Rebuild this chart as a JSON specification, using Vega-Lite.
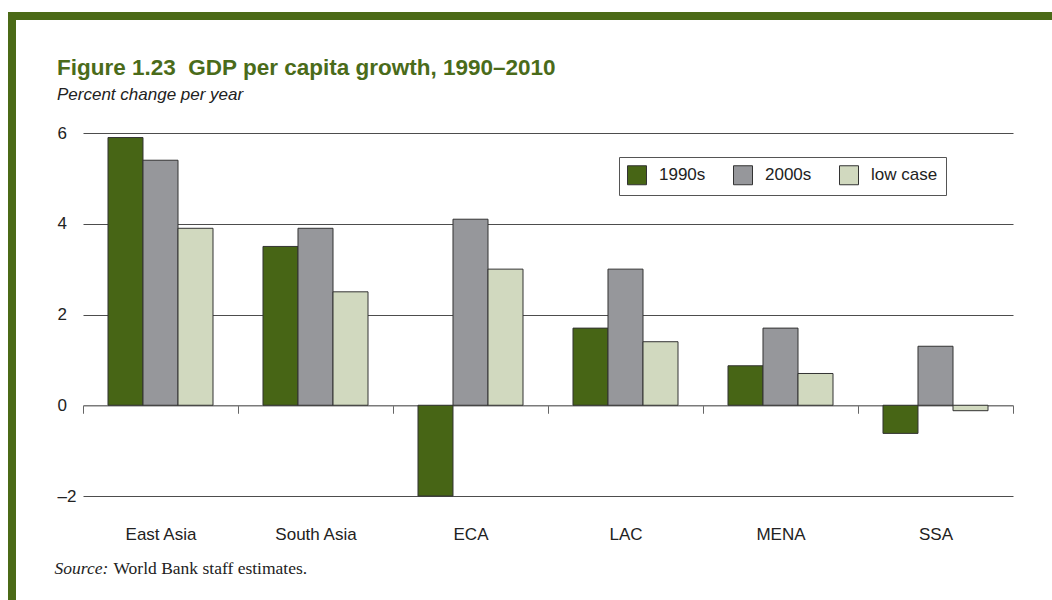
{
  "$schema": "https://vega.github.io/schema/vega-lite/v6.json",
  "background": "white",
  "padding": {"left": 8, "top": 12, "right": 0, "bottom": 0},
  "config": {"view": {"stroke": null}, "font": "Liberation Sans"},
  "bounds": "flush",
  "spacing": 0,
  "hconcat": [
    {
      "width": 8,
      "height": 588,
      "view": {"fill": "#4b6a17", "stroke": null},
      "data": {"values": []},
      "mark": "point",
      "encoding": {}
    },
    {
      "bounds": "flush",
      "spacing": 113,
      "vconcat": [
        {
          "width": 1036,
          "height": 8,
          "view": {"fill": "#4b6a17", "stroke": null},
          "data": {"values": []},
          "mark": "point",
          "encoding": {}
        },
        {
          "bounds": "flush",
          "spacing": 66,
          "hconcat": [
            {
              "width": 1,
              "height": 1,
              "view": {"stroke": null},
              "data": {"values": []},
              "mark": "point",
              "encoding": {}
            },
            {
              "width": 930,
              "height": 363,
              "title": {
                "text": "Figure 1.23\u00a0\u00a0GDP per capita growth, 1990–2010",
                "subtitle": "Percent change per year",
                "anchor": "start",
                "frame": "group",
                "dx": -26,
                "offset": 21,
                "font": "Liberation Sans",
                "fontSize": 22.5,
                "fontWeight": "bold",
                "color": "#4a6b1a",
                "subtitleFont": "Liberation Sans",
                "subtitleFontSize": 17,
                "subtitleFontStyle": "italic",
                "subtitleColor": "#222222",
                "subtitlePadding": 8
              },
              "data": {
                "values": [
                  {"region": "East Asia", "series": "1990s", "value": 5.9},
                  {"region": "East Asia", "series": "2000s", "value": 5.4},
                  {"region": "East Asia", "series": "low case", "value": 3.9},
                  {"region": "South Asia", "series": "1990s", "value": 3.5},
                  {"region": "South Asia", "series": "2000s", "value": 3.9},
                  {"region": "South Asia", "series": "low case", "value": 2.5},
                  {"region": "ECA", "series": "1990s", "value": -2.0},
                  {"region": "ECA", "series": "2000s", "value": 4.1},
                  {"region": "ECA", "series": "low case", "value": 3.0},
                  {"region": "LAC", "series": "1990s", "value": 1.7},
                  {"region": "LAC", "series": "2000s", "value": 3.0},
                  {"region": "LAC", "series": "low case", "value": 1.4},
                  {"region": "MENA", "series": "1990s", "value": 0.87},
                  {"region": "MENA", "series": "2000s", "value": 1.7},
                  {"region": "MENA", "series": "low case", "value": 0.7},
                  {"region": "SSA", "series": "1990s", "value": -0.62},
                  {"region": "SSA", "series": "2000s", "value": 1.3},
                  {"region": "SSA", "series": "low case", "value": -0.12}
                ]
              },
              "mark": {"type": "bar", "stroke": "#333333", "strokeWidth": 1},
              "encoding": {
                "x": {
                  "field": "region",
                  "type": "nominal",
                  "sort": ["East Asia", "South Asia", "ECA", "LAC", "MENA", "SSA"],
                  "scale": {"paddingInner": 0, "paddingOuter": 0},
                  "axis": {
                    "orient": "bottom",
                    "offset": -90.75,
                    "domain": true,
                    "domainColor": "#7a7a7a",
                    "domainWidth": 1.5,
                    "ticks": true,
                    "tickBand": "extent",
                    "tickSize": 8,
                    "tickColor": "#666666",
                    "labelPadding": 113,
                    "labelAngle": 0,
                    "labelFont": "Liberation Sans",
                    "labelFontSize": 17,
                    "labelColor": "#222222",
                    "title": "World Bank staff estimates.",
                    "titleX": 30,
                    "titleY": 168,
                    "titleAnchor": "start",
                    "titleAlign": "left",
                    "titleBaseline": "alphabetic",
                    "titleFont": "Liberation Serif",
                    "titleFontSize": 17.5,
                    "titleFontWeight": "normal",
                    "titleColor": "#222222"
                  }
                },
                "xOffset": {
                  "field": "series",
                  "type": "nominal",
                  "sort": ["1990s", "2000s", "low case"],
                  "scale": {"paddingInner": 0, "paddingOuter": 0.714}
                },
                "y": {
                  "field": "value",
                  "type": "quantitative",
                  "scale": {"domain": [-2, 6], "nice": false, "zero": false},
                  "axis": {
                    "values": [-2, 0, 2, 4, 6],
                    "grid": true,
                    "gridColor": {"condition": {"test": "datum.value === 0", "value": "transparent"}, "value": "#4d4d4d"},
                    "domain": false,
                    "ticks": false,
                    "tickSize": 0,
                    "labelAlign": "left",
                    "labelPadding": 26,
                    "labelFont": "Liberation Sans",
                    "labelFontSize": 17,
                    "labelColor": "#222222",
                    "labelExpr": "datum.value < 0 ? '–' + abs(datum.value) : datum.label",
                    "title": "Source:",
                    "titleAngle": 0,
                    "titleX": -29,
                    "titleY": 440,
                    "titleAlign": "left",
                    "titleBaseline": "alphabetic",
                    "titleFont": "Liberation Serif",
                    "titleFontStyle": "italic",
                    "titleFontWeight": "normal",
                    "titleFontSize": 17.5,
                    "titleColor": "#222222"
                  }
                },
                "color": {
                  "field": "series",
                  "type": "nominal",
                  "scale": {"domain": ["1990s", "2000s", "low case"], "range": ["#476515", "#96979b", "#d1d9bf"]},
                  "legend": {
                    "orient": "none",
                    "legendX": 611,
                    "legendY": 145,
                    "direction": "horizontal",
                    "title": null,
                    "symbolType": "square",
                    "symbolSize": 361,
                    "symbolStrokeColor": "#333333",
                    "symbolStrokeWidth": 1,
                    "symbolOpacity": 1,
                    "labelFont": "Liberation Sans",
                    "labelFontSize": 17,
                    "labelColor": "#222222",
                    "labelOffset": 12,
                    "columnPadding": 25,
                    "padding": 8,
                    "fillColor": "white",
                    "strokeColor": "#555555"
                  }
                }
              }
            }
          ]
        }
      ]
    }
  ]
}
